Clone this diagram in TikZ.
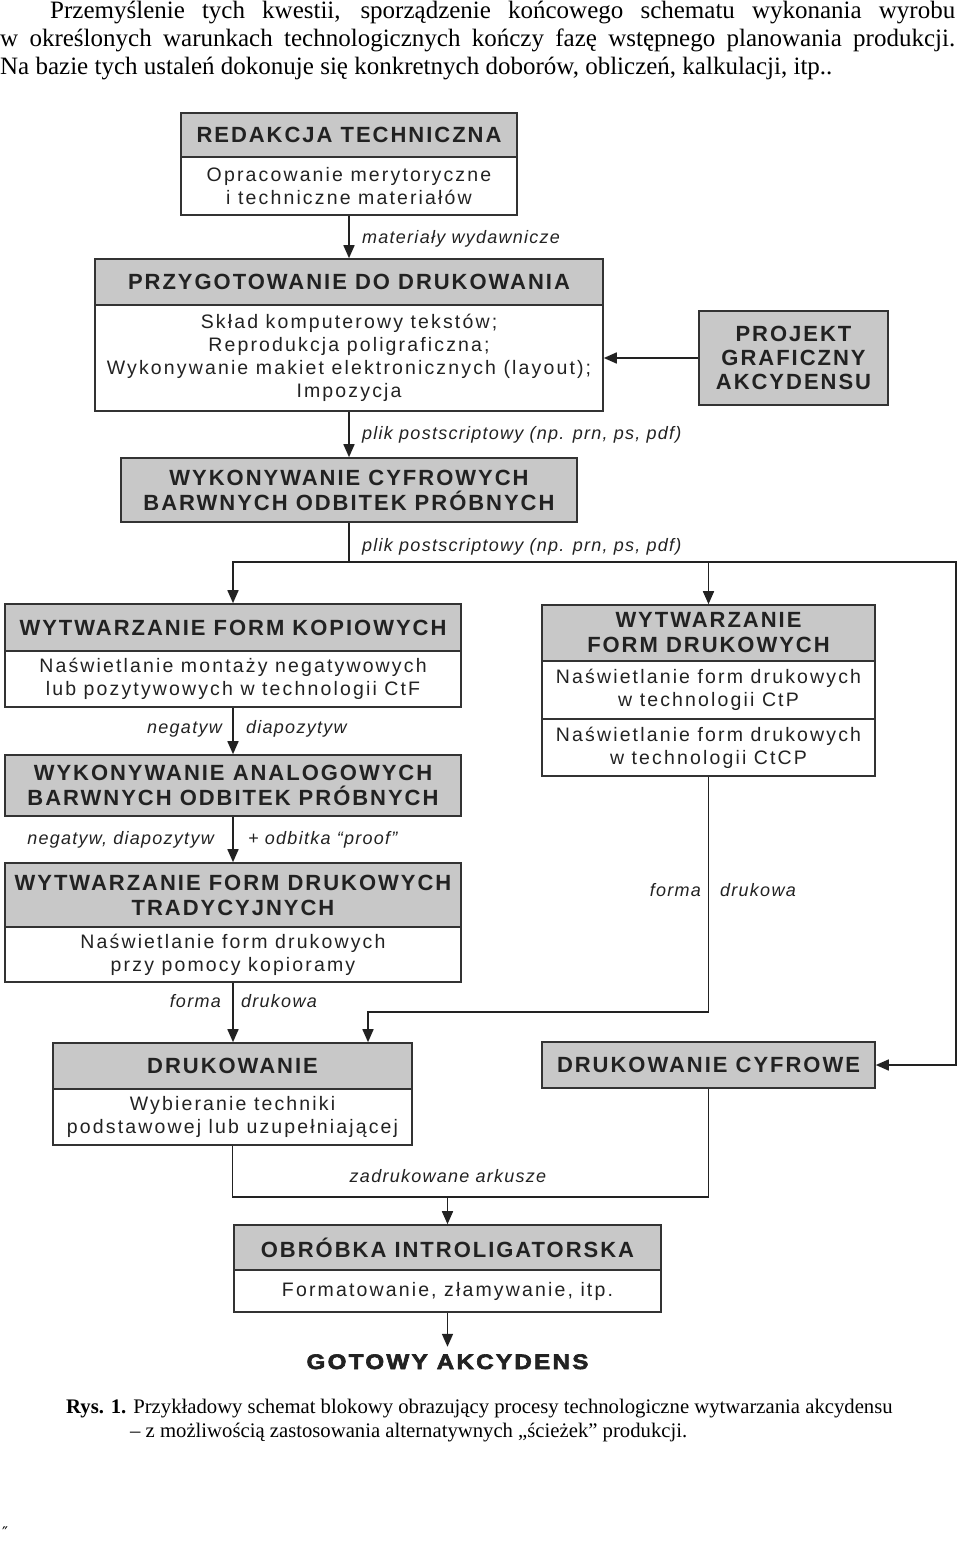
\documentclass[tikz,border=0pt]{standalone}
\usepackage{fontspec}
\setmainfont{Liberation Serif}
\newfontfamily\titlefont{Liberation Sans}[LetterSpace=9]
\newfontfamily\bodyfont{Liberation Sans}[LetterSpace=11]
\newfontfamily\labelfont{Liberation Sans}[LetterSpace=7]
\newfontfamily\endfont{Liberation Sans Bold}[LetterSpace=11,FakeBold=3,FakeStretch=1.15]
\newfontfamily\markfont{DejaVu Sans}
\usetikzlibrary{arrows.meta}
\definecolor{boxgray}{RGB}{200,200,200}
\definecolor{linegray}{RGB}{51,51,51}
\definecolor{inkgray}{RGB}{34,34,34}
\begin{document}
\begin{tikzpicture}[x=1pt,y=-1pt,
    head/.style={draw=linegray,line width=1.6pt,fill=boxgray,text=inkgray,align=center,inner sep=0pt,
      font=\titlefont\bfseries\fontsize{22}{25}\selectfont},
    body/.style={draw=linegray,line width=1.6pt,fill=white,text=inkgray,align=center,inner sep=0pt,
      font=\bodyfont\fontsize{19.5}{23}\selectfont},
    lab/.style={text=inkgray,inner sep=0pt,font=\labelfont\itshape\fontsize{18}{20}\selectfont},
    flow/.style={draw=inkgray,line width=1.6pt},
    arr/.style={flow,-{Triangle[length=13pt,width=11pt]}}]
  \fill[white] (0,0) rectangle (960,1541);
  \useasboundingbox (0,0) rectangle (960,1541);
  \node[anchor=base west,inner sep=0pt,font=\fontsize{25}{28}\selectfont] (par1) at (50,19)
    {\makebox[905pt][s]{Przemyślenie tych kwestii, sporządzenie końcowego schematu wykonania wyrobu}};
  \node[anchor=base west,inner sep=0pt,font=\fontsize{25}{28}\selectfont] (par2) at (0,47)
    {\makebox[955pt][s]{w określonych warunkach technologicznych kończy fazę wstępnego planowania produkcji.}};
  \node[anchor=base west,inner sep=0pt,font=\fontsize{25}{28}\selectfont] (par3) at (0,75)
    {Na bazie tych ustaleń dokonuje się konkretnych doborów, obliczeń, kalkulacji, itp..};
  \node[head,minimum width=336pt,minimum height=44pt] (redH) at (349,135) {REDAKCJA TECHNICZNA};
  \node[body,minimum width=336pt,minimum height=58pt] (redB) at (349,186) {Opracowanie merytoryczne\\i techniczne materiałów};
  \node[head,minimum width=508pt,minimum height=46pt] (przH) at (349,282) {PRZYGOTOWANIE DO DRUKOWANIA};
  \node[body,minimum width=508pt,minimum height=106pt] (przB) at (349,358)
    {Skład komputerowy tekstów;\\Reprodukcja poligraficzna;\\Wykonywanie makiet elektronicznych (layout);\\Impozycja};
  \node[head,minimum width=189pt,minimum height=94pt,font=\titlefont\bfseries\fontsize{22}{24}\selectfont] (proj) at (793.5,358)
    {PROJEKT\\GRAFICZNY\\AKCYDENSU};
  \node[head,minimum width=456pt,minimum height=64pt] (cyf) at (349,490) {WYKONYWANIE CYFROWYCH\\BARWNYCH ODBITEK PRÓBNYCH};
  \node[head,minimum width=456pt,minimum height=47pt] (kopH) at (233,627.5) {WYTWARZANIE FORM KOPIOWYCH};
  \node[body,minimum width=456pt,minimum height=56pt] (kopB) at (233,679)
    {Naświetlanie montaży negatywowych\\lub pozytywowych w technologii CtF};
  \node[head,minimum width=456pt,minimum height=61pt] (anal) at (233,785.5) {WYKONYWANIE ANALOGOWYCH\\BARWNYCH ODBITEK PRÓBNYCH};
  \node[head,minimum width=456pt,minimum height=64pt] (tradH) at (233,895) {WYTWARZANIE FORM DRUKOWYCH\\TRADYCYJNYCH};
  \node[body,minimum width=456pt,minimum height=55pt] (tradB) at (233,954.5) {Naświetlanie form drukowych\\przy pomocy kopioramy};
  \node[head,minimum width=333pt,minimum height=56pt] (drkH) at (708.5,633) {WYTWARZANIE\\FORM DRUKOWYCH};
  \node[body,minimum width=333pt,minimum height=58pt] (ctp) at (708.5,690) {Naświetlanie form drukowych\\w technologii CtP};
  \node[body,minimum width=333pt,minimum height=57pt] (ctcp) at (708.5,747.5) {Naświetlanie form drukowych\\w technologii CtCP};
  \node[head,minimum width=359pt,minimum height=46pt] (druH) at (232.5,1066) {DRUKOWANIE};
  \node[body,minimum width=359pt,minimum height=56pt] (druB) at (232.5,1117) {Wybieranie techniki\\podstawowej lub uzupełniającej};
  \node[head,minimum width=333pt,minimum height=46pt] (dcyf) at (708.5,1065) {DRUKOWANIE CYFROWE};
  \node[head,minimum width=427pt,minimum height=45pt] (obrH) at (447.5,1247.5) {OBRÓBKA INTROLIGATORSKA};
  \node[body,minimum width=427pt,minimum height=42pt] (obrB) at (447.5,1291) {Formatowanie, złamywanie, itp.};
  \node[text=inkgray,inner sep=0pt,text height=16pt,text depth=0pt,font=\endfont\fontsize{21}{25}\selectfont] (gotowy) at (447.5,1361)
    {GOTOWY AKCYDENS};
  \coordinate (split) at (349,562);
  \coordinate (rcorner) at (956,1065);
  \coordinate (join) at (368,1012);
  \coordinate (merge) at (447.5,1197);
  \draw[arr] (redB) -- (przH);
  \draw[arr] (proj) -- (przB);
  \draw[arr] (przB) -- (cyf);
  \draw[flow] (cyf) -- (split);
  \draw[arr] (split) -| (kopH);
  \draw[arr] (split) -| (drkH);
  \draw[arr] (split) -| (rcorner) -- (dcyf);
  \draw[arr] (kopB) -- (anal);
  \draw[arr] (anal) -- (tradH);
  \draw[arr] (tradB.south) -- (tradB.south |- druH.north);
  \draw[arr] (ctcp) |- (join) -- (join |- druH.north);
  \draw[flow] (druB) |- (merge) -| (dcyf);
  \draw[arr] (merge) -- (obrH);
  \draw[arr,shorten >=6pt] (obrB.south) -- (gotowy.north);
  \node[lab,anchor=base west] (matlab) at (362,243) {materiały wydawnicze};
  \node[lab,anchor=base west] (pliklab1) at (362,439) {plik postscriptowy (np. prn, ps, pdf)};
  \node[lab,anchor=base west] (pliklab2) at (362,551) {plik postscriptowy (np. prn, ps, pdf)};
  \node[lab,anchor=base east] (neglab) at (222,733) {negatyw};
  \node[lab,anchor=base west] (dialab) at (246,733) {diapozytyw};
  \node[lab,anchor=base east] (negdialab) at (214,844) {negatyw, diapozytyw};
  \node[lab,anchor=base west] (prooflab) at (248,844) {+ odbitka “proof”};
  \node[lab,anchor=base east] (formlab1) at (221,1007) {forma};
  \node[lab,anchor=base west] (druklab1) at (241,1007) {drukowa};
  \node[lab,anchor=base east] (formlab2) at (701,896) {forma};
  \node[lab,anchor=base west] (druklab2) at (720,896) {drukowa};
  \node[lab,anchor=base] (arklab) at (448,1182) {zadrukowane arkusze};
  \node[anchor=base west,inner sep=0pt,font=\fontsize{20.7}{24}\selectfont] (cap1) at (66,1413)
    {\textbf{Rys. 1.} Przykładowy schemat blokowy obrazujący procesy technologiczne wytwarzania akcydensu};
  \node[anchor=base west,inner sep=0pt,font=\fontsize{20.7}{24}\selectfont] (cap2) at (130,1437)
    {– z możliwością zastosowania alternatywnych „ścieżek” produkcji.};
  \node[anchor=base west,inner sep=0pt,font=\markfont\fontsize{16}{16}\selectfont] (mark) at (2,1538) {″};
\end{tikzpicture}
\end{document}
